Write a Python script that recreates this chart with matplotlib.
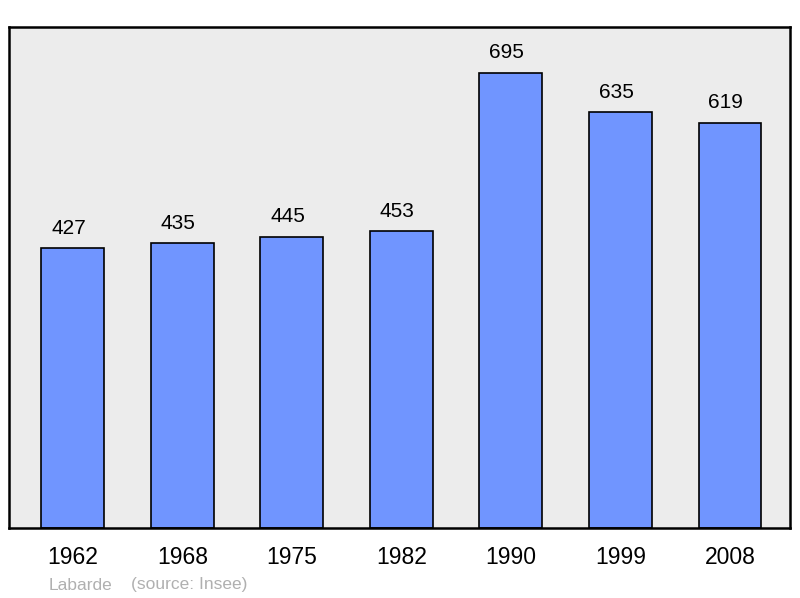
import matplotlib.pyplot as plt

years = ['1962', '1968', '1975', '1982', '1990', '1999', '2008']
population = [427, 435, 445, 453, 695, 635, 619]
commune = 'Labarde'
source = '(source: Insee)'

plt.rcParams['font.family'] = ['Liberation Sans', 'DejaVu Sans']

fig = plt.figure(figsize=(8, 5.98), dpi=100)
ax = fig.add_axes([9 / 800, 70 / 598, 781 / 800, 501 / 598])
ax.set_facecolor('#ececec')

x = list(range(len(years)))
bars = ax.bar(x, population, width=0.575, color='#7095ff', edgecolor='black', linewidth=1.2)

# value labels above each bar
for xi, v in zip(x, population):
    ax.annotate(str(v), (xi, v), xytext=(-3, 10.4), textcoords='offset points',
                ha='center', va='baseline', fontsize=15)

ax.set_xlim(-0.584, 6.548)
ax.set_ylim(0, 765)
ax.set_xticks(x)
ax.set_xticklabels(years, fontsize=16.5)
ax.tick_params(axis='x', length=0, pad=13)
ax.set_yticks([])
for s in ax.spines.values():
    s.set_linewidth(1.8)

fig.text(49 / 800, 1 - 585 / 598, commune, color='#b0b0b0', fontsize=12.5, va='center')
fig.text(131 / 800, 1 - 585 / 598, source, color='#b0b0b0', fontsize=12.5, va='center')

fig.savefig('out.png', dpi=100)
